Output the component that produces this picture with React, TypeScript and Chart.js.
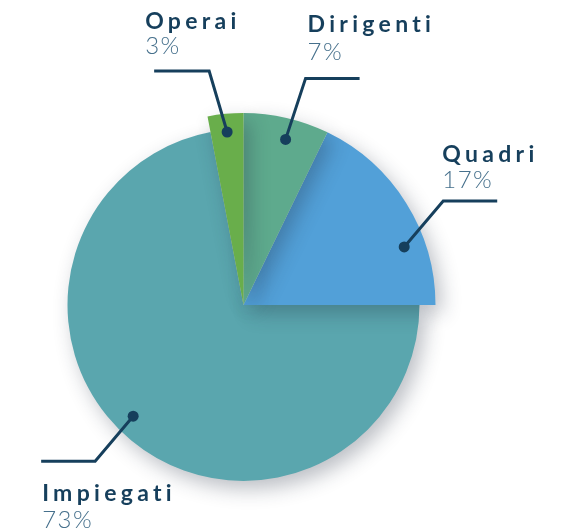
import React, { useEffect, useRef } from "react";
import { Chart, registerables } from "chart.js";

Chart.register(...registerables);

// ---- data (slice sizes as drawn in the picture) ----
const categories = ["Dirigenti", "Quadri", "Impiegati", "Operai"];
const values = [7.2, 17.8, 72, 3];
const percentLabels = ["7%", "17%", "73%", "3%"];

// ---- styles / layout (not data) ----
const colors = ["#5eaa8d", "#52a0d8", "#5aa6ae", "#69ae4b"];
const radiusScale = [1, 1, 176 / 192, 1];
const drawOrder = [2, 1, 0, 3];
// dot placement inside slice: fraction of slice angle, fraction of radius
const dotFrac = [0.55, 0.69, 0.52, 0.5];
const dotRad = [0.89, 0.89, 0.89, 0.905];
// leader + text layout relative to dot / elbow
const labelLayout = [
  { ex: 20, ey: -61, end: 54, tx: 2, tb: -46, pb: -18 },
  { ex: 39, ey: -46, end: 54, tx: -1, tb: -39, pb: -13 },
  { ex: -38, ey: 45, end: -54, tx: -53, tb: 40, pb: 67 },
  { ex: -18, ey: -61, end: -55, tx: -64, tb: -42, pb: -17 },
];
const ink = "#163f5c";
const pctInk = "#46708c";

const sizePlugin = {
  id: "sliceSize",
  afterDatasetsUpdate(chart: any) {
    const meta = chart.getDatasetMeta(0);
    meta.data.forEach((arc: any, i: number) => {
      arc.outerRadius = arc.outerRadius * radiusScale[i];
    });
  },
};

const shadowPlugin = {
  id: "pieShadow",
  beforeDatasetsDraw(chart: any) {
    const ctx = chart.ctx;
    const meta = chart.getDatasetMeta(0);
    ctx.save();
    ctx.shadowColor = "rgba(30,40,60,0.3)";
    ctx.shadowBlur = 20;
    ctx.shadowOffsetX = 6;
    ctx.shadowOffsetY = 8;
    drawOrder.forEach((i) => meta.data[i].draw(ctx, chart.chartArea));
    ctx.restore();
    return false;
  },
};

const labelPlugin = {
  id: "leaderLabels",
  afterDraw(chart: any) {
    const ctx = chart.ctx;
    const meta = chart.getDatasetMeta(0);
    meta.data.forEach((arc: any, i: number) => {
      const a = arc.startAngle + (arc.endAngle - arc.startAngle) * dotFrac[i];
      const r = arc.outerRadius * dotRad[i];
      const dx = arc.x + Math.cos(a) * r;
      const dy = arc.y + Math.sin(a) * r;
      const L = labelLayout[i];
      const exx = dx + L.ex;
      const eyy = dy + L.ey;
      ctx.save();
      ctx.strokeStyle = ink;
      ctx.lineWidth = 3;
      ctx.lineJoin = "miter";
      ctx.beginPath();
      ctx.moveTo(dx, dy);
      ctx.lineTo(exx, eyy);
      ctx.lineTo(exx + L.end, eyy);
      ctx.stroke();
      ctx.fillStyle = ink;
      ctx.beginPath();
      ctx.arc(dx, dy, 5.5, 0, Math.PI * 2);
      ctx.fill();
      ctx.textAlign = "left";
      ctx.textBaseline = "alphabetic";
      ctx.font = "bold 23px Lato";
      (ctx as any).letterSpacing = "4.3px";
      ctx.fillText(categories[i], exx + L.tx, eyy + L.tb);
      ctx.font = "300 24px Lato";
      ctx.fillStyle = pctInk;
      (ctx as any).letterSpacing = "1.5px";
      ctx.fillText(percentLabels[i], exx + L.tx, eyy + L.pb);
      ctx.restore();
    });
  },
};

export default function App() {
  const ref = useRef<HTMLCanvasElement | null>(null);
  useEffect(() => {
    if (!ref.current) return;
    const chart = new Chart(ref.current, {
      type: "pie",
      data: {
        labels: categories,
        datasets: [
          {
            data: values,
            backgroundColor: colors,
            borderWidth: 0,
          },
        ],
      },
      options: {
        responsive: false,
        animation: false,
        layout: { padding: { left: 51, top: 113, right: 130, bottom: 35 } },
        plugins: {
          legend: { display: false },
          tooltip: { enabled: false },
        },
      },
      plugins: [sizePlugin, shadowPlugin, labelPlugin],
    });
    return () => chart.destroy();
  }, []);
  return (
    <canvas
      ref={ref}
      width={566}
      height={532}
      style={{ position: "absolute", left: 0, top: 0, width: 566, height: 532 }}
    />
  );
}
